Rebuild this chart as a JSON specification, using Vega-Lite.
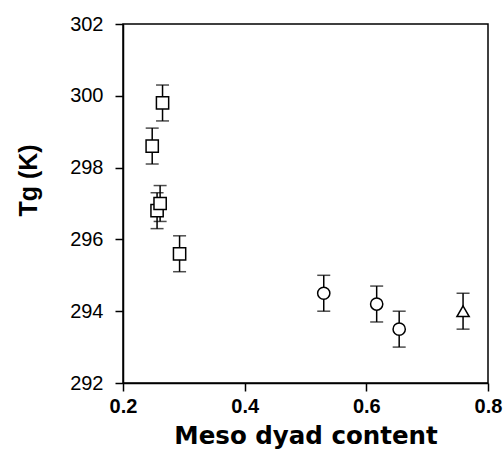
{
  "$schema": "https://vega.github.io/schema/vega-lite/v6.json",
  "autosize": "none",
  "width": 365,
  "height": 359,
  "padding": {"left": 123, "top": 24, "right": 16, "bottom": 74},
  "background": "white",
  "config": {
    "view": {"stroke": "black", "strokeWidth": 1.5},
    "scale": {"continuousPadding": 0},
    "axis": {
      "domainColor": "black",
      "domainWidth": 1.5,
      "tickColor": "black",
      "tickWidth": 1.5,
      "tickSize": 8,
      "grid": false,
      "labelFlush": false,
      "labelOverlap": false,
      "labelColor": "black",
      "titleColor": "black",
      "labelFont": "Liberation Sans",
      "titleFont": "DejaVu Sans"
    }
  },
  "data": {
    "values": [
      {"x": 0.265, "y": 299.8, "lo": 299.3, "hi": 300.3, "kind": "square"},
      {"x": 0.248, "y": 298.6, "lo": 298.1, "hi": 299.1, "kind": "square"},
      {"x": 0.256, "y": 296.8, "lo": 296.3, "hi": 297.3, "kind": "square"},
      {"x": 0.261, "y": 297.0, "lo": 296.5, "hi": 297.5, "kind": "square"},
      {"x": 0.293, "y": 295.6, "lo": 295.1, "hi": 296.1, "kind": "square"},
      {"x": 0.530, "y": 294.5, "lo": 294.0, "hi": 295.0, "kind": "circle"},
      {"x": 0.617, "y": 294.2, "lo": 293.7, "hi": 294.7, "kind": "circle"},
      {"x": 0.654, "y": 293.5, "lo": 293.0, "hi": 294.0, "kind": "circle"},
      {"x": 0.759, "y": 294.0, "lo": 293.5, "hi": 294.5, "kind": "triangle-up"}
    ]
  },
  "encoding": {
    "x": {
      "field": "x", "type": "quantitative",
      "scale": {"domain": [0.2, 0.8], "nice": false, "zero": false, "padding": 0},
      "axis": {
        "title": "Meso dyad content",
        "values": [0.2, 0.4, 0.6, 0.8],
        "format": ".1f",
        "labelFontSize": 20,
        "labelFontWeight": "bold",
        "labelPadding": 5,
        "titleFontSize": 24.5,
        "titleFontWeight": "bold",
        "titlePadding": 8
      }
    }
  },
  "layer": [
    {
      "mark": {"type": "rule", "color": "black", "strokeWidth": 1.5},
      "encoding": {
        "y": {
          "field": "lo", "type": "quantitative",
          "scale": {"domain": [292, 302], "nice": false, "zero": false, "padding": 0},
          "axis": {
            "title": "Tg (K)",
            "values": [292, 294, 296, 298, 300, 302],
            "labelFontSize": 20,
            "labelPadding": 12,
            "titleFont": "Liberation Sans",
            "titleFontSize": 25,
            "titleFontWeight": "bold",
            "titleAngle": -90,
            "titleAlign": "center",
            "titleBaseline": "middle",
            "titleX": -95,
            "titleY": 156
          }
        },
        "y2": {"field": "hi"}
      }
    },
    {
      "mark": {"type": "tick", "orient": "horizontal", "color": "black", "thickness": 1.5, "size": 13},
      "encoding": {"y": {"field": "lo", "type": "quantitative"}}
    },
    {
      "mark": {"type": "tick", "orient": "horizontal", "color": "black", "thickness": 1.5, "size": 13},
      "encoding": {"y": {"field": "hi", "type": "quantitative"}}
    },
    {
      "mark": {"type": "point", "filled": false, "fill": "white", "fillOpacity": 1, "stroke": "black", "strokeWidth": 1.5, "opacity": 1, "size": 150},
      "encoding": {
        "y": {"field": "y", "type": "quantitative"},
        "shape": {
          "field": "kind", "type": "nominal",
          "scale": {"domain": ["square", "circle", "triangle-up"], "range": ["square", "circle", "triangle-up"]},
          "legend": null
        }
      }
    }
  ]
}
